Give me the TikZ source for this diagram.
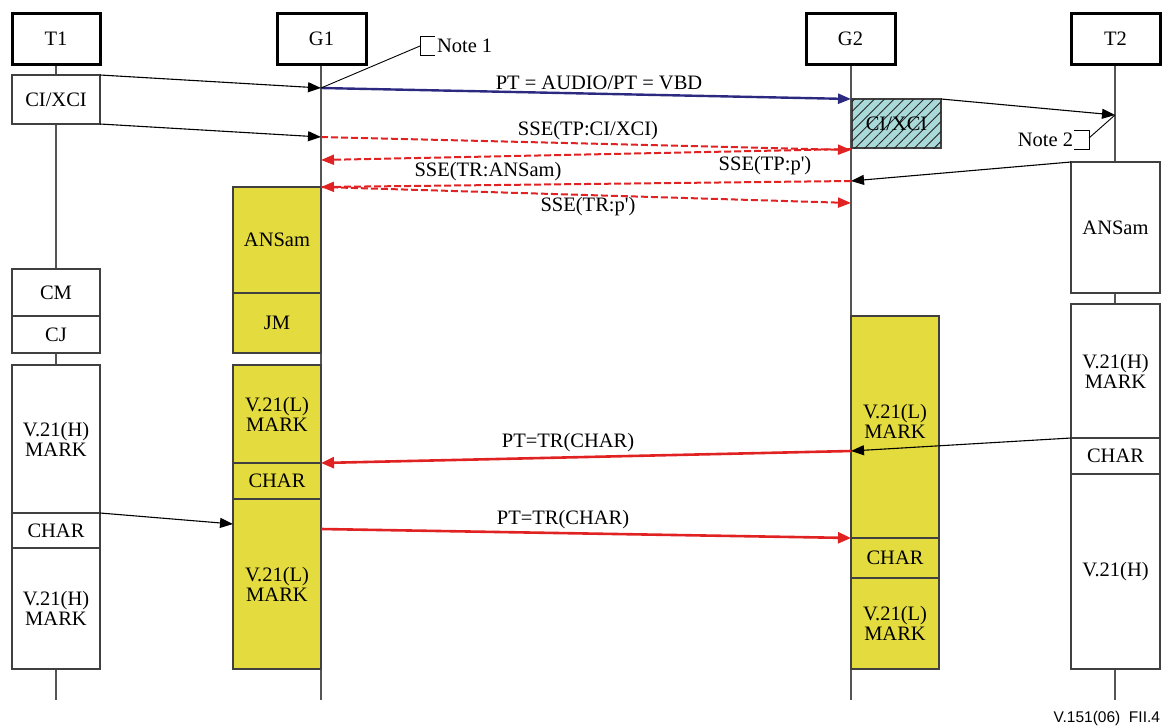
\documentclass[tikz,border=0pt]{standalone}
\usepackage{fontspec}
\setmainfont{Liberation Serif}
\newfontfamily\footfont{Liberation Sans}
\usetikzlibrary{arrows.meta,patterns.meta}
\definecolor{lifegray}{HTML}{555555}
\definecolor{boxgray}{HTML}{404040}
\definecolor{ylw}{HTML}{E4DC3E}
\definecolor{redarr}{HTML}{E02222}
\definecolor{bluearr}{HTML}{2C2A80}
\definecolor{teal}{HTML}{A9D9D9}
\begin{document}
\begin{tikzpicture}[x=1pt,y=-1pt,
  every node/.style={font=\fontsize{20.5}{20}\selectfont, inner sep=0pt, outer sep=0pt},
  head/.style={draw=black, line width=3pt, fill=white, minimum width=88, minimum height=51},
  blk/.style={draw=boxgray, line width=1.1pt, fill=white, align=center},
  yblk/.style={blk, fill=ylw},
  life/.style={draw=lifegray, line width=1.2pt},
  blk arr/.style={-{Triangle[length=13pt,width=10pt]}, draw=black, line width=1.1pt},
  red solid/.style={-{Triangle[length=13pt,width=11pt]}, draw=redarr, line width=2.6pt},
  red dash/.style={-{Triangle[length=13pt,width=10pt]}, draw=redarr, line width=2pt, dash pattern=on 7pt off 3pt},
  blue arr/.style={-{Triangle[length=13pt,width=10pt]}, draw=bluearr, line width=2.4pt},
  lbl/.style={font=\fontsize{20.5}{20}\selectfont},
  note/.style={draw=black, line width=0.9pt}
]
\useasboundingbox (0,0) rectangle (1162,726);

% lifelines
\draw[life] (56,64) -- (56,700);
\draw[life] (321,64) -- (321,700);
\draw[life] (851,64) -- (851,700);
\draw[life] (1115,64) -- (1115,700);

% heads
\node[head] (T1) at (56,38.5) {T1};
\node[head, minimum width=89] (G1) at (321.5,38.5) {G1};
\node[head, minimum width=89] (G2) at (850.5,38.5) {G2};
\node[head, minimum width=89] (T2) at (1115.5,38.5) {T2};

% T1 column
\node[blk, minimum width=88, minimum height=49] (t1ci) at (56,99.5) {CI/XCI};
\node[blk, minimum width=88, minimum height=47] (t1cm) at (56,292.5) {CM};
\node[blk, minimum width=88, minimum height=37] (t1cj) at (56,334.5) {CJ};
\node[blk, minimum width=88, minimum height=148] (t1m1) at (56,439) {V.21(H)\\MARK};
\node[blk, minimum width=88, minimum height=35] (t1ch) at (56,530.5) {CHAR};
\node[blk, minimum width=88, minimum height=121] (t1m2) at (56,608.5) {V.21(H)\\MARK};

% G1 column
\node[yblk, minimum width=88, minimum height=106] (g1ans) at (277,240) {ANSam};
\node[yblk, minimum width=88, minimum height=60] (g1jm) at (277,323) {JM};
\node[yblk, minimum width=88, minimum height=98] (g1m1) at (277,414) {V.21(L)\\MARK};
\node[yblk, minimum width=88, minimum height=36] (g1ch) at (277,481) {CHAR};
\node[yblk, minimum width=88, minimum height=170] (g1m2) at (277,584) {V.21(L)\\MARK};

% G2 column
\node[blk, fill=teal, minimum width=89, minimum height=49,
      postaction={pattern={Lines[angle=45,distance=7pt,line width=0.9pt]}, pattern color=black!85}]
      (g2ci) at (896.5,123.5) {CI/XCI};
\node[yblk, minimum width=88, minimum height=222] (g2m1) at (895,427) {};
\node[lbl, align=center] (g2m1t) at (895,421) {V.21(L)\\MARK};
\node[yblk, minimum width=88, minimum height=40] (g2ch) at (895,558) {CHAR};
\node[yblk, minimum width=88, minimum height=91] (g2m2) at (895,623.5) {V.21(L)\\MARK};

% T2 column
\node[blk, minimum width=89, minimum height=131] (t2ans) at (1115.5,227.5) {ANSam};
\node[blk, minimum width=89, minimum height=134] (t2m1) at (1115.5,371) {V.21(H)\\MARK};
\node[blk, minimum width=89, minimum height=36] (t2ch) at (1115.5,456) {CHAR};
\node[blk, minimum width=89, minimum height=195] (t2v) at (1115.5,571.5) {V.21(H)};

% connector end points on lifelines
\coordinate (g1a) at (321,88);
\coordinate (g1b) at (321,137);
\coordinate (g1c) at (321,160);
\coordinate (g1d) at (321,187);
\coordinate (g1e) at (321,463);
\coordinate (g1g) at (321,529);
\coordinate (g2a) at (851,99);
\coordinate (g2b) at (851,150);
\coordinate (g2bb) at (851,149);
\coordinate (g2c) at (851,181);
\coordinate (g2d) at (851,203);
\coordinate (g2e) at (851,451);
\coordinate (g2f) at (851,538);
\coordinate (t2a) at (1115,115);
\coordinate (g1f) at (g1m2.west |- 0,524);

% black arrows
\draw[blk arr] (t1ci.north east) -- (g1a);
\draw[blk arr] (t1ci.south east) -- (g1b);
\draw[blk arr] (g2ci.north east) -- (t2a);
\draw[blk arr] (t2ans.north west) -- (g2c);
\draw[blk arr] (t2ch.north west) -- (g2e);
\draw[blk arr] (t1ch.north east) -- (g1f);

% blue arrow
\draw[blue arr] (g1a) -- (g2a);
\node[lbl] (lblue) at (599,83) {PT = AUDIO/PT = VBD};

% red dashed
\draw[red dash] (g1b) -- (g2b);
\draw[red dash] (g2bb) -- (g1c);
\draw[red dash] (g2c) -- (g1d);
\draw[red dash] (g1d) -- (g2d);
\node[lbl] (l1) at (588,131) {SSE(TP:CI/XCI)};
\node[lbl] (l2) at (765,166) {SSE(TP:p\textquotesingle)};
\node[lbl] (l3) at (488,172) {SSE(TR:ANSam)};
\node[lbl] (l4) at (588,207) {SSE(TR:p\textquotesingle)};

% red solid
\draw[red solid] (g2e) -- (g1e);
\draw[red solid] (g1g) -- (g2f);
\node[lbl] (l5) at (568,443) {PT=TR(CHAR)};
\node[lbl] (l6) at (563,520) {PT=TR(CHAR)};

% notes
\coordinate (n1) at (420,46);
\draw[note] (g1a) -- (n1);
\draw[note] (435,36) -- (420,36) -- (420,55) -- (435,55);
\node[lbl, anchor=west] (note1) at (437,46) {Note 1};
\coordinate (n2) at (1089,138);
\draw[note] (t2a) -- (n2);
\draw[note] (1074,130) -- (1089,130) -- (1089,149) -- (1074,149);
\node[lbl, anchor=east] (note2) at (1073,140) {Note 2};

% footer
\node[font=\footfont\fontsize{15.5}{16}\selectfont, anchor=east] (foot) at (1160,718) {V.151(06)\ \ FII.4};
\end{tikzpicture}
\end{document}
